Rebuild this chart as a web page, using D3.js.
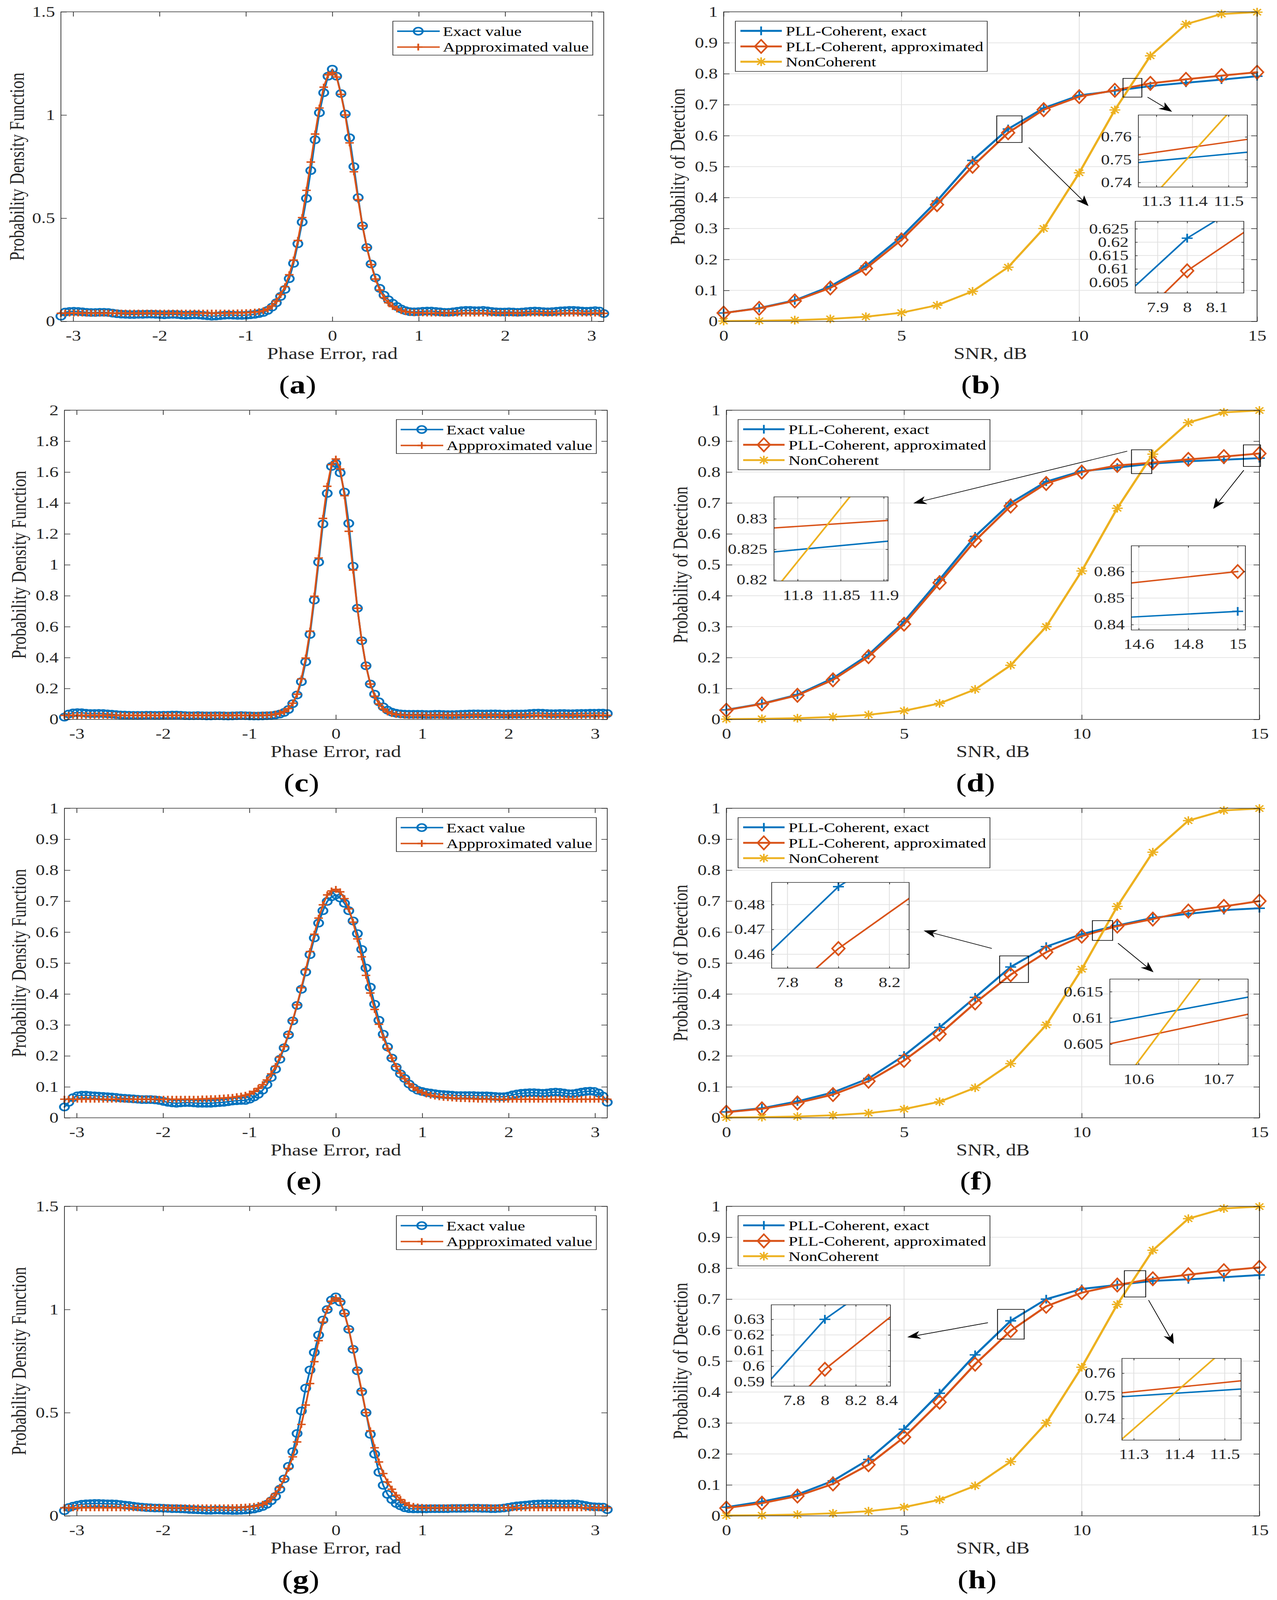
<!DOCTYPE html>
<html>
<head>
<meta charset="utf-8">
<script src="https://cdn.jsdelivr.net/npm/d3@7"></script>
<style>html,body{margin:0;padding:0;background:#fff;overflow:hidden;}#fig{display:block;width:100vw;height:100vh;}</style>
</head>
<body>
<svg id="fig" xmlns="http://www.w3.org/2000/svg" viewBox="0 0 3270 5133" preserveAspectRatio="none"></svg>
<script>
// ================= DATA =================
const phaseTicks = [-3, -2, -1, 0, 1, 2, 3];
const pdfTicks15 = [0, 0.5, 1, 1.5];
const pdfTicks2 = [0, 0.2, 0.4, 0.6, 0.8, 1, 1.2, 1.4, 1.6, 1.8, 2];
const pdfTicks1 = [0, 0.1, 0.2, 0.3, 0.4, 0.5, 0.6, 0.7, 0.8, 0.9, 1];
// sample grid of the phase error axis (linspace -pi..pi, 127 samples)
const phaseError = d3.range(127).map(i => -Math.PI + i * (2 * Math.PI / 126));

const pdfExactA = [
  0.025,0.045,0.048,0.049,0.048,0.046,0.044,0.043,0.043,0.044,
  0.044,0.043,0.040,0.037,0.035,0.034,0.033,0.033,0.034,0.034,
  0.035,0.035,0.034,0.033,0.032,0.033,0.034,0.033,0.031,0.030,
  0.031,0.032,0.031,0.029,0.027,0.025,0.026,0.028,0.030,0.031,
  0.030,0.029,0.029,0.030,0.032,0.034,0.038,0.043,0.053,0.069,
  0.090,0.121,0.155,0.207,0.281,0.376,0.481,0.596,0.731,0.880,
  1.011,1.108,1.188,1.222,1.188,1.104,1.005,0.890,0.750,0.600,
  0.463,0.358,0.278,0.211,0.160,0.127,0.105,0.088,0.072,0.060,
  0.052,0.047,0.046,0.047,0.049,0.050,0.050,0.048,0.046,0.044,
  0.044,0.046,0.049,0.052,0.053,0.053,0.052,0.052,0.053,0.051,
  0.048,0.046,0.045,0.045,0.046,0.045,0.044,0.045,0.047,0.049,
  0.050,0.049,0.047,0.046,0.047,0.049,0.051,0.052,0.053,0.053,
  0.052,0.050,0.049,0.050,0.052,0.050,0.038
];
const pdfApproxA = [
  0.039,0.040,0.040,0.040,0.040,0.040,0.040,0.040,0.040,0.040,
  0.040,0.040,0.040,0.040,0.040,0.040,0.040,0.040,0.040,0.040,
  0.040,0.040,0.040,0.040,0.040,0.040,0.040,0.040,0.040,0.040,
  0.040,0.040,0.040,0.040,0.040,0.040,0.040,0.040,0.040,0.040,
  0.040,0.041,0.041,0.042,0.043,0.045,0.047,0.052,0.060,0.075,
  0.098,0.130,0.168,0.226,0.297,0.392,0.503,0.635,0.772,0.908,
  1.034,1.135,1.195,1.206,1.184,1.100,1.000,0.865,0.725,0.590,
  0.463,0.358,0.275,0.205,0.152,0.115,0.090,0.072,0.060,0.052,
  0.047,0.044,0.042,0.041,0.041,0.040,0.040,0.040,0.040,0.040,
  0.040,0.040,0.040,0.040,0.040,0.040,0.040,0.040,0.040,0.040,
  0.040,0.040,0.040,0.040,0.040,0.040,0.040,0.040,0.040,0.040,
  0.040,0.040,0.040,0.040,0.040,0.040,0.040,0.040,0.040,0.040,
  0.040,0.040,0.040,0.040,0.040,0.040,0.039
];
const pdfExactC = [
  0.015,0.035,0.042,0.044,0.043,0.040,0.038,0.038,0.039,0.038,
  0.036,0.034,0.031,0.029,0.028,0.027,0.026,0.026,0.026,0.027,
  0.027,0.026,0.026,0.027,0.027,0.028,0.028,0.027,0.025,0.024,
  0.024,0.025,0.024,0.023,0.023,0.024,0.024,0.023,0.022,0.023,
  0.024,0.025,0.024,0.023,0.022,0.022,0.023,0.024,0.025,0.029,
  0.035,0.045,0.064,0.102,0.158,0.244,0.372,0.550,0.772,1.017,
  1.264,1.462,1.636,1.656,1.595,1.470,1.268,0.991,0.719,0.509,
  0.347,0.229,0.163,0.114,0.081,0.060,0.047,0.040,0.036,0.034,
  0.033,0.033,0.033,0.033,0.032,0.032,0.033,0.033,0.032,0.031,
  0.031,0.032,0.033,0.034,0.035,0.036,0.036,0.035,0.035,0.036,
  0.036,0.035,0.034,0.034,0.035,0.035,0.035,0.036,0.038,0.040,
  0.041,0.040,0.038,0.037,0.037,0.038,0.038,0.037,0.037,0.038,
  0.039,0.039,0.040,0.040,0.041,0.041,0.038
];
const pdfApproxC = [
  0.026,0.026,0.026,0.026,0.026,0.026,0.026,0.026,0.026,0.026,
  0.026,0.026,0.026,0.026,0.026,0.026,0.026,0.026,0.026,0.026,
  0.026,0.026,0.026,0.026,0.026,0.026,0.026,0.026,0.026,0.026,
  0.026,0.026,0.026,0.026,0.026,0.026,0.026,0.026,0.026,0.026,
  0.026,0.026,0.026,0.026,0.026,0.026,0.027,0.028,0.030,0.034,
  0.040,0.050,0.070,0.105,0.163,0.262,0.397,0.571,0.797,1.044,
  1.300,1.508,1.648,1.684,1.620,1.447,1.217,0.966,0.719,0.512,
  0.347,0.229,0.150,0.100,0.068,0.048,0.038,0.032,0.029,0.027,
  0.026,0.026,0.026,0.026,0.026,0.026,0.026,0.026,0.026,0.026,
  0.026,0.026,0.026,0.026,0.026,0.026,0.026,0.026,0.026,0.026,
  0.026,0.026,0.026,0.026,0.026,0.026,0.026,0.026,0.026,0.026,
  0.026,0.026,0.026,0.026,0.026,0.026,0.026,0.026,0.026,0.026,
  0.026,0.026,0.026,0.026,0.026,0.026,0.026
];
const pdfExactE = [
  0.035,0.050,0.065,0.071,0.073,0.073,0.072,0.071,0.070,0.069,
  0.068,0.067,0.066,0.064,0.063,0.062,0.061,0.060,0.059,0.059,
  0.059,0.058,0.056,0.053,0.050,0.048,0.047,0.048,0.049,0.049,
  0.048,0.047,0.047,0.047,0.047,0.048,0.049,0.050,0.052,0.054,
  0.055,0.056,0.056,0.060,0.067,0.076,0.089,0.107,0.130,0.157,
  0.189,0.226,0.268,0.313,0.363,0.415,0.471,0.527,0.581,0.629,
  0.669,0.699,0.714,0.720,0.710,0.693,0.669,0.636,0.595,0.544,
  0.484,0.422,0.367,0.315,0.270,0.229,0.193,0.163,0.142,0.127,
  0.109,0.097,0.089,0.085,0.082,0.080,0.078,0.076,0.075,0.074,
  0.073,0.072,0.072,0.072,0.072,0.072,0.071,0.071,0.071,0.070,
  0.069,0.068,0.068,0.070,0.074,0.077,0.079,0.080,0.081,0.081,
  0.080,0.079,0.080,0.082,0.083,0.082,0.080,0.078,0.078,0.080,
  0.083,0.085,0.086,0.085,0.080,0.070,0.050
];
const pdfApproxE = [
  0.060,0.060,0.060,0.060,0.060,0.060,0.060,0.060,0.060,0.060,
  0.060,0.060,0.060,0.060,0.060,0.060,0.060,0.060,0.060,0.060,
  0.060,0.060,0.060,0.060,0.060,0.060,0.060,0.060,0.060,0.060,
  0.060,0.060,0.061,0.061,0.062,0.062,0.063,0.064,0.065,0.066,
  0.068,0.070,0.073,0.077,0.085,0.095,0.107,0.122,0.142,0.166,
  0.196,0.230,0.270,0.315,0.365,0.420,0.478,0.537,0.593,0.645,
  0.688,0.720,0.733,0.738,0.730,0.708,0.675,0.632,0.578,0.520,
  0.460,0.403,0.350,0.302,0.260,0.224,0.193,0.166,0.144,0.126,
  0.110,0.098,0.089,0.082,0.077,0.073,0.070,0.068,0.066,0.065,
  0.064,0.063,0.062,0.062,0.061,0.061,0.060,0.060,0.060,0.060,
  0.060,0.060,0.060,0.060,0.060,0.060,0.060,0.060,0.060,0.060,
  0.060,0.060,0.060,0.060,0.060,0.060,0.060,0.060,0.060,0.060,
  0.060,0.060,0.060,0.060,0.060,0.060,0.060
];
const pdfExactG = [
  0.025,0.040,0.047,0.052,0.056,0.058,0.059,0.060,0.060,0.059,
  0.058,0.058,0.057,0.055,0.052,0.050,0.047,0.044,0.042,0.040,
  0.039,0.038,0.038,0.037,0.036,0.035,0.035,0.034,0.033,0.031,
  0.030,0.029,0.028,0.027,0.027,0.028,0.028,0.027,0.027,0.026,
  0.026,0.027,0.028,0.030,0.033,0.038,0.045,0.056,0.073,0.094,
  0.129,0.179,0.240,0.311,0.399,0.508,0.619,0.707,0.792,0.876,
  0.949,1.000,1.046,1.061,1.036,0.983,0.904,0.807,0.703,0.602,
  0.500,0.395,0.299,0.211,0.148,0.104,0.079,0.060,0.048,0.039,
  0.035,0.034,0.034,0.034,0.034,0.035,0.035,0.035,0.035,0.035,
  0.036,0.036,0.036,0.036,0.037,0.037,0.037,0.036,0.036,0.035,
  0.035,0.036,0.038,0.041,0.045,0.048,0.050,0.052,0.054,0.056,
  0.057,0.058,0.058,0.058,0.058,0.057,0.057,0.057,0.058,0.057,
  0.054,0.050,0.046,0.044,0.043,0.042,0.030
];
const pdfApproxG = [
  0.039,0.039,0.039,0.039,0.039,0.039,0.039,0.039,0.039,0.039,
  0.039,0.039,0.039,0.039,0.039,0.039,0.039,0.039,0.039,0.039,
  0.039,0.039,0.039,0.039,0.039,0.039,0.039,0.039,0.039,0.039,
  0.039,0.039,0.039,0.039,0.039,0.039,0.039,0.039,0.039,0.040,
  0.040,0.041,0.042,0.044,0.046,0.050,0.056,0.067,0.085,0.107,
  0.138,0.179,0.230,0.286,0.358,0.443,0.537,0.641,0.747,0.849,
  0.939,1.000,1.040,1.056,1.040,0.980,0.905,0.810,0.707,0.606,
  0.500,0.412,0.330,0.261,0.205,0.164,0.129,0.100,0.079,0.063,
  0.051,0.046,0.043,0.041,0.040,0.039,0.039,0.039,0.039,0.039,
  0.039,0.039,0.039,0.039,0.039,0.039,0.039,0.039,0.039,0.039,
  0.039,0.039,0.039,0.039,0.039,0.039,0.039,0.039,0.039,0.039,
  0.039,0.039,0.039,0.039,0.039,0.039,0.039,0.039,0.039,0.039,
  0.039,0.039,0.039,0.039,0.039,0.039,0.039
];

const snrDb = [0, 1, 2, 3, 4, 5, 6, 7, 8, 9, 10, 11, 12, 13, 14, 15];
const snrTicks = [0, 5, 10, 15];
const pdTicks = [0, 0.1, 0.2, 0.3, 0.4, 0.5, 0.6, 0.7, 0.8, 0.9, 1];
const pdNonCoherent = [0.001, 0.002, 0.004, 0.008, 0.015, 0.028, 0.052, 0.097, 0.175, 0.300, 0.480, 0.683, 0.858, 0.960, 0.993, 0.999];
const pdExactB  = [0.027, 0.043, 0.068, 0.113, 0.179, 0.273, 0.389, 0.520, 0.6215, 0.689, 0.730, 0.745, 0.760, 0.771, 0.781, 0.792];
const pdApproxB = [0.027, 0.042, 0.066, 0.108, 0.171, 0.263, 0.377, 0.501, 0.6093, 0.684, 0.726, 0.7465, 0.769, 0.782, 0.794, 0.805];
const pdExactD  = [0.031, 0.051, 0.080, 0.133, 0.209, 0.316, 0.452, 0.592, 0.700, 0.769, 0.803, 0.8143, 0.8276, 0.835, 0.840, 0.845];
const pdApproxD = [0.030, 0.050, 0.078, 0.128, 0.203, 0.308, 0.442, 0.578, 0.690, 0.763, 0.800, 0.8214, 0.8306, 0.841, 0.850, 0.860];
const pdExactF  = [0.019, 0.031, 0.053, 0.082, 0.127, 0.201, 0.292, 0.389, 0.4872, 0.553, 0.5934, 0.6213, 0.646, 0.659, 0.671, 0.677];
const pdApproxF = [0.018, 0.029, 0.048, 0.075, 0.118, 0.185, 0.270, 0.371, 0.4623, 0.535, 0.5867, 0.6193, 0.642, 0.668, 0.683, 0.700];
const pdExactH  = [0.028, 0.046, 0.069, 0.113, 0.182, 0.280, 0.396, 0.520, 0.630, 0.700, 0.733, 0.746, 0.7591, 0.764, 0.771, 0.778];
const pdApproxH = [0.025, 0.041, 0.064, 0.103, 0.165, 0.254, 0.367, 0.490, 0.598, 0.677, 0.721, 0.7458, 0.766, 0.779, 0.792, 0.803];

const legendLeft = ["Exact value", "Appproximated value"];
const legendRight = ["PLL-Coherent, exact", "PLL-Coherent, approximated", "NonCoherent"];
const captionLeft = ["a", "c", "e", "g"];
const captionRight = ["b", "d", "f", "h"];

// ================= STYLE / LAYOUT =================
// The drawing is laid out in the 3270x5133 figure space (viewBox) and fitted to the window.
const FONT = "'Liberation Serif','Times New Roman',serif";
const AX = "#262626";
const GRID = "#e1e1e1";
const AXW = 1.8;
const C_BLUE = "#0072BD", C_ORANGE = "#D95319", C_YELLOW = "#EDB120";
const svg = d3.select("#fig");
svg.append("rect").attr("width", 3270).attr("height", 5133).attr("fill", "#fff");

function markerPath(type, cx, cy, s) {
  if (type === "o") return `M${cx - s},${cy}a${s},${s} 0 1,0 ${2 * s},0a${s},${s} 0 1,0 ${-2 * s},0`;
  if (type === "+") return `M${cx - s},${cy}H${cx + s}M${cx},${cy - s}V${cy + s}`;
  if (type === "d") return `M${cx},${cy - s * 1.25}L${cx + s * 0.95},${cy}L${cx},${cy + s * 1.25}L${cx - s * 0.95},${cy}Z`;
  if (type === "*") { const k = s * 0.72; return `M${cx - s},${cy}H${cx + s}M${cx},${cy - s}V${cy + s}M${cx - k},${cy - k}L${cx + k},${cy + k}M${cx - k},${cy + k}L${cx + k},${cy - k}`; }
  return "";
}

function drawSeries(parent, x, y, xs, ys, st) {
  const pts = xs.map((v, i) => ({ x: v, y: ys[i] }));
  parent.append("path").datum(pts)
    .attr("d", d3.line().x(d => x(d.x)).y(d => y(d.y)))
    .attr("fill", "none").attr("stroke", st.color).attr("stroke-width", st.lw)
    .attr("stroke-linejoin", "round").attr("stroke-linecap", "round");
  parent.append("g").selectAll("path").data(pts).join("path")
    .attr("d", d => markerPath(st.marker, x(d.x), y(d.y), st.ms))
    .attr("fill", "none").attr("stroke", st.color).attr("stroke-width", st.mw)
    .attr("stroke-linejoin", "miter");
}

function drawGrid(x, y, xs, ys) {
  const g = svg.append("g");
  g.selectAll("line.gx").data(xs).join("line").attr("class", "gx")
    .attr("x1", d => x(d)).attr("x2", d => x(d)).attr("y1", y.range()[0]).attr("y2", y.range()[1])
    .attr("stroke", GRID).attr("stroke-width", 2.2);
  g.selectAll("line.gy").data(ys).join("line").attr("class", "gy")
    .attr("y1", d => y(d)).attr("y2", d => y(d)).attr("x1", x.range()[0]).attr("x2", x.range()[1])
    .attr("stroke", GRID).attr("stroke-width", 2.2);
}

function drawFrame(x, y, c) {
  const L = x.range()[0], R = x.range()[1], B = y.range()[0], T = y.range()[1];
  const g = svg.append("g");
  const fmt = d => String(d);
  const st = s => {
    s.attr("font-size", null).attr("font-family", null);
    s.select(".domain").remove();
    s.selectAll(".tick line").attr("stroke", AX).attr("stroke-width", AXW);
    s.selectAll(".tick text").attr("fill", AX).attr("font-size", c.fs).attr("font-family", FONT);
  };
  g.append("g").attr("transform", `translate(0,${B})`)
    .call(d3.axisBottom(x).tickValues(c.xTicks).tickSize(-c.tl).tickSizeOuter(0).tickPadding(c.xPad).tickFormat(fmt)).call(st);
  g.append("g").attr("transform", `translate(0,${T})`)
    .call(d3.axisTop(x).tickValues(c.xTicks).tickSize(-c.tl).tickSizeOuter(0).tickFormat("")).call(st);
  g.append("g").attr("transform", `translate(${L},0)`)
    .call(d3.axisLeft(y).tickValues(c.yTicks).tickSize(-c.tl).tickSizeOuter(0).tickPadding(c.yPad).tickFormat(fmt)).call(st);
  g.append("g").attr("transform", `translate(${R},0)`)
    .call(d3.axisRight(y).tickValues(c.yTicks).tickSize(-c.tl).tickSizeOuter(0).tickFormat("")).call(st);
  g.append("rect").attr("x", L).attr("y", T).attr("width", R - L).attr("height", B - T)
    .attr("fill", "none").attr("stroke", AX).attr("stroke-width", AXW);
}

function axisLabels(p, xlabel, ylabel) {
  svg.append("text").attr("x", p.left + p.width / 2).attr("y", p.top + p.height + 121)
    .attr("text-anchor", "middle").attr("font-family", FONT).attr("font-size", 52).attr("fill", AX).text(xlabel);
  svg.append("text").attr("transform", `translate(${p.left + p.ylabOff},${p.top + p.height / 2}) rotate(-90)`)
    .attr("text-anchor", "middle").attr("font-family", FONT).attr("font-size", 52).attr("fill", AX).text(ylabel);
}

function caption(cx, by, letter) {
  const t = svg.append("text").attr("x", cx).attr("y", by).attr("text-anchor", "middle")
    .attr("font-family", FONT).attr("font-size", 82).attr("fill", "#000");
  t.append("tspan").text("(");
  t.append("tspan").attr("font-weight", "bold").text(letter);
  t.append("tspan").text(")");
}

function drawLegend(x0, y0, w, h, labels, styles, geom) {
  const g = svg.append("g");
  g.append("rect").attr("x", x0).attr("y", y0).attr("width", w).attr("height", h)
    .attr("fill", "#fff").attr("stroke", AX).attr("stroke-width", AXW);
  labels.forEach((lab, i) => {
    const cy = y0 + geom.rows[i];
    const s = styles[i];
    g.append("line").attr("x1", x0 + geom.l0).attr("x2", x0 + geom.l1).attr("y1", cy).attr("y2", cy)
      .attr("stroke", s.color).attr("stroke-width", s.lw);
    g.append("path").attr("d", markerPath(s.marker, x0 + geom.m, cy, s.ms))
      .attr("fill", "none").attr("stroke", s.color).attr("stroke-width", s.mw);
    g.append("text").attr("x", x0 + geom.t).attr("y", cy + 15)
      .attr("font-family", FONT).attr("font-size", 43).attr("fill", "#000").text(lab);
  });
}

function arrow(x1, y1, x2, y2) {
  const dx = x2 - x1, dy = y2 - y1, len = Math.hypot(dx, dy);
  const ux = dx / len, uy = dy / len, px = -uy, py = ux;
  const L = 34, W = 13, N = 24;
  svg.append("line").attr("x1", x1).attr("y1", y1).attr("x2", x2 - ux * N).attr("y2", y2 - uy * N)
    .attr("stroke", "#000").attr("stroke-width", 2);
  const pts = [[x2, y2], [x2 - ux * L + px * W, y2 - uy * L + py * W], [x2 - ux * N, y2 - uy * N], [x2 - ux * L - px * W, y2 - uy * L - py * W]];
  svg.append("path").attr("d", "M" + pts.map(p => p.join(",")).join("L") + "Z").attr("fill", "#000");
}

let clipCount = 0;
function drawInset(c, list) {
  const x = d3.scaleLinear().domain(c.xDomain).range([c.left, c.right]);
  const y = d3.scaleLinear().domain(c.yDomain).range([c.bottom, c.top]);
  svg.append("rect").attr("x", c.left).attr("y", c.top).attr("width", c.right - c.left).attr("height", c.bottom - c.top).attr("fill", "#fff");
  drawGrid(x, y, c.xGrid || c.xTicks, c.yTicks);
  const id = "clip" + (clipCount++);
  svg.append("clipPath").attr("id", id).append("rect")
    .attr("x", c.left).attr("y", c.top).attr("width", c.right - c.left).attr("height", c.bottom - c.top);
  const g = svg.append("g").attr("clip-path", `url(#${id})`);
  list.forEach(s => drawSeries(g, x, y, snrDb, s.data, s.st));
  drawFrame(x, y, { xTicks: c.xTicks, yTicks: c.yTicks, tl: 6, xPad: 29, yPad: 17, fs: 45 });
}

// ================= LEFT PANELS =================
const stExact = { color: C_BLUE, marker: "o", lw: 4.6, ms: 11.5, mw: 4.8 };
const stApprox = { color: C_ORANGE, marker: "+", lw: 4.6, ms: 11, mw: 4.6 };

const leftPanels = [
  { left: 156, top: 38, width: 1390, height: 993, yDomain: [0, 1.5], yTicks: pdfTicks15, exact: pdfExactA, approx: pdfApproxA, ylabOff: -95, capX: 762, capY: 1262 },
  { left: 165, top: 1316, width: 1390, height: 992, yDomain: [0, 2], yTicks: pdfTicks2, exact: pdfExactC, approx: pdfApproxC, ylabOff: -99, capX: 772, capY: 2539 },
  { left: 165, top: 2593, width: 1390, height: 993, yDomain: [0, 1], yTicks: pdfTicks1, exact: pdfExactE, approx: pdfApproxE, ylabOff: -99, capX: 778, capY: 3816 },
  { left: 165, top: 3870, width: 1390, height: 993, yDomain: [0, 1.5], yTicks: pdfTicks15, exact: pdfExactG, approx: pdfApproxG, ylabOff: -99, capX: 770, capY: 5096 }
];

leftPanels.forEach((p, k) => {
  const x = d3.scaleLinear().domain([-Math.PI, Math.PI]).range([p.left, p.left + p.width]);
  const y = d3.scaleLinear().domain(p.yDomain).range([p.top + p.height, p.top]);
  const g = svg.append("g");
  drawSeries(g, x, y, phaseError, p.exact, stExact);
  drawSeries(g, x, y, phaseError, p.approx, stApprox);
  drawFrame(x, y, { xTicks: phaseTicks, yTicks: p.yTicks, tl: 15, xPad: 28, yPad: 15, fs: 47 });
  axisLabels(p, "Phase Error, rad", "Probability Density Function");
  drawLegend(p.left + p.width - 28 - 512, p.top + 30, 512, 109, legendLeft, [stExact, stApprox],
    { rows: [32, 83], l0: 11, l1: 120, m: 65, t: 128 });
  caption(p.capX, p.capY, captionLeft[k]);
});

// ================= RIGHT PANELS =================
const stPllExact = { color: C_BLUE, marker: "+", lw: 6, ms: 14, mw: 4.5 };
const stPllApprox = { color: C_ORANGE, marker: "d", lw: 6, ms: 17, mw: 4.5 };
const stNonCoh = { color: C_YELLOW, marker: "*", lw: 6, ms: 14, mw: 4 };
const stInExact = { color: C_BLUE, marker: "+", lw: 4.6, ms: 14, mw: 4.5 };
const stInApprox = { color: C_ORANGE, marker: "d", lw: 4.6, ms: 17, mw: 4.5 };
const stInNon = { color: C_YELLOW, marker: "*", lw: 4.6, ms: 14, mw: 4 };

const rightPanels = [
  { left: 1853, top: 38, width: 1366, height: 993, exact: pdExactB, approx: pdApproxB, ylabOff: -100, capX: 2511, capY: 1262,
    boxes: [[11.23, 11.76, 0.7245, 0.785], [7.68, 8.39, 0.578, 0.664]],
    arrows: [[11.92, 0.7245, 12.61, 0.677], [8.58, 0.562, 10.26, 0.3725]],
    insets: [
      { left: 2915, top: 369, right: 3194, bottom: 600, xDomain: [11.25, 11.552], yDomain: [0.738, 0.7696], xTicks: [11.3, 11.4, 11.5], yTicks: [0.74, 0.75, 0.76] },
      { left: 2907, top: 710, right: 3185, bottom: 940, xDomain: [7.824, 8.192], yDomain: [0.601, 0.6278], xTicks: [7.9, 8, 8.1], yTicks: [0.605, 0.61, 0.615, 0.62, 0.625] }
    ] },
  { left: 1860, top: 1316, width: 1365, height: 992, exact: pdExactD, approx: pdApproxD, ylabOff: -100, capX: 2498, capY: 2539,
    boxes: [[11.40, 11.97, 0.795, 0.872], [14.55, 15.03, 0.818, 0.888]],
    arrows: [[11.28, 0.8675, 5.26, 0.699], [14.56, 0.806, 13.70, 0.681]],
    insets: [
      { left: 1982, top: 1594, right: 2274, bottom: 1864, xDomain: [11.7725, 11.905], yDomain: [0.8198, 0.8336], xTicks: [11.8, 11.85, 11.9], yTicks: [0.82, 0.825, 0.83] },
      { left: 2897, top: 1751, right: 3189, bottom: 2021, xDomain: [14.57, 15.031], yDomain: [0.838, 0.8697], xTicks: [14.6, 14.8, 15], yTicks: [0.84, 0.85, 0.86] }
    ] },
  { left: 1860, top: 2593, width: 1365, height: 993, exact: pdExactF, approx: pdApproxF, ylabOff: -100, capX: 2499, capY: 3816,
    boxes: [[7.69, 8.50, 0.437, 0.523], [10.30, 10.87, 0.573, 0.637]],
    arrows: [[7.47, 0.547, 5.55, 0.605], [11.02, 0.564, 12.02, 0.470]],
    insets: [
      { left: 1976, top: 2831, right: 2328, bottom: 3106, xDomain: [7.738, 8.2775], yDomain: [0.4544, 0.4889], xTicks: [7.8, 8, 8.2], yTicks: [0.46, 0.47, 0.48] },
      { left: 2842, top: 3141, right: 3196, bottom: 3416, xDomain: [10.564, 10.737], yDomain: [0.6011, 0.6174], xTicks: [10.6, 10.7], xGrid: [10.6, 10.65, 10.7], yTicks: [0.605, 0.61, 0.615] }
    ] },
  { left: 1860, top: 3870, width: 1365, height: 993, exact: pdExactH, approx: pdApproxH, ylabOff: -100, capX: 2502, capY: 5096,
    boxes: [[7.63, 8.38, 0.571, 0.667], [11.20, 11.80, 0.707, 0.792]],
    arrows: [[7.36, 0.624, 5.09, 0.577], [11.88, 0.697, 12.59, 0.555]],
    insets: [
      { left: 1975, top: 4186, right: 2280, bottom: 4447, xDomain: [7.653, 8.424], yDomain: [0.5872, 0.6393], xTicks: [7.8, 8, 8.2, 8.4], yTicks: [0.59, 0.6, 0.61, 0.62, 0.63] },
      { left: 2873, top: 4358, right: 3178, bottom: 4620, xDomain: [11.274, 11.536], yDomain: [0.7305, 0.7665], xTicks: [11.3, 11.4, 11.5], yTicks: [0.74, 0.75, 0.76] }
    ] }
];

rightPanels.forEach((p, k) => {
  const x = d3.scaleLinear().domain([0, 15]).range([p.left, p.left + p.width]);
  const y = d3.scaleLinear().domain([0, 1]).range([p.top + p.height, p.top]);
  drawGrid(x, y, snrTicks, pdTicks);
  const g = svg.append("g");
  drawSeries(g, x, y, snrDb, p.exact, stPllExact);
  drawSeries(g, x, y, snrDb, p.approx, stPllApprox);
  drawSeries(g, x, y, snrDb, pdNonCoherent, stNonCoh);
  drawFrame(x, y, { xTicks: snrTicks, yTicks: pdTicks, tl: 15, xPad: 28, yPad: 15, fs: 47 });
  axisLabels(p, "SNR, dB", "Probability of Detection");
  drawLegend(p.left + 30, p.top + 30, 645, 161, legendRight, [stPllExact, stPllApprox, stNonCoh],
    { rows: [31, 81, 130], l0: 13, l1: 119, m: 66, t: 129 });
  p.boxes.forEach(b => {
    svg.append("rect").attr("x", x(b[0])).attr("y", y(b[3])).attr("width", x(b[1]) - x(b[0])).attr("height", y(b[2]) - y(b[3]))
      .attr("fill", "none").attr("stroke", "#000").attr("stroke-width", 2);
  });
  p.arrows.forEach(a => arrow(x(a[0]), y(a[1]), x(a[2]), y(a[3])));
  p.insets.forEach(c => drawInset(c, [
    { data: p.exact, st: stInExact }, { data: p.approx, st: stInApprox }, { data: pdNonCoherent, st: stInNon }
  ]));
  caption(p.capX, p.capY, captionRight[k]);
});
</script>
</body>
</html>
